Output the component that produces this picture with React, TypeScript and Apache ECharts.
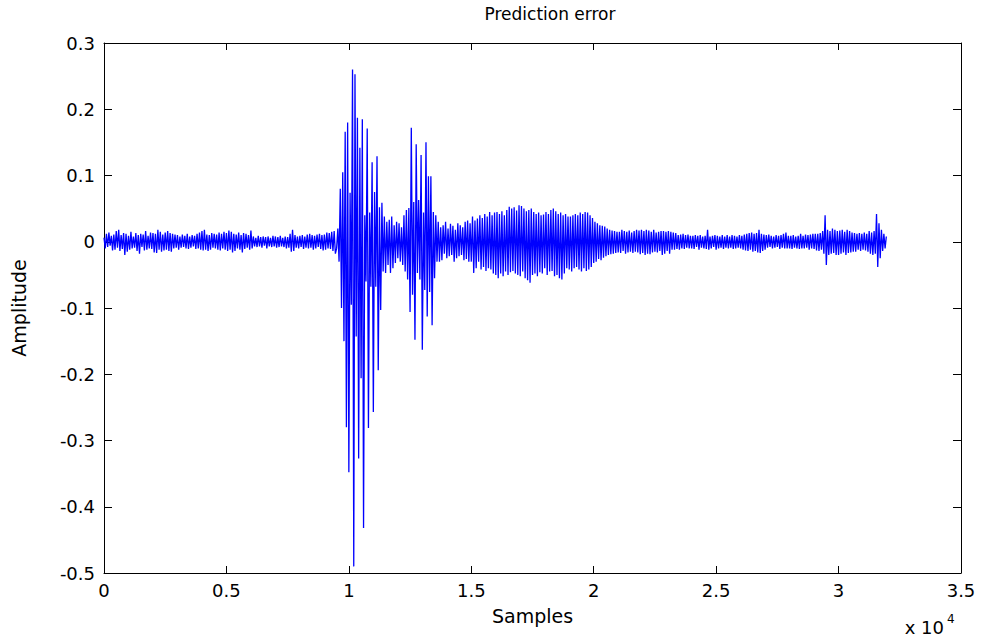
import React, { useEffect, useRef } from "react";
import * as echarts from "echarts";

// Sample spacing of the listed prediction-error values (samples per point)
const sampleStep = 50;

// Prediction error values, one every 50 samples
const quietStart = [
  0.006, -0.010, 0.012, -0.008, 0.014, -0.006, 0.009, -0.013, 0.011, -0.012, 0.016, -0.009, 0.018, -0.014, 0.010, -0.011, 0.013, -0.020, 0.012, -0.015,
  0.009, -0.012, 0.015, -0.010, 0.008, -0.009, 0.013, -0.014, 0.010, -0.018, 0.012, -0.008, 0.011, -0.013, 0.016, -0.012, 0.009, -0.010, 0.014, -0.011,
  0.013, -0.016, 0.012, -0.017, 0.018, -0.012, 0.015, -0.015, 0.011, -0.013, 0.014, -0.012, 0.016, -0.014, 0.013, -0.015, 0.012, -0.010, 0.011, -0.009,
  0.010, -0.012, 0.008, -0.009, 0.011, -0.008, 0.009, -0.010, 0.012, -0.011, 0.008, -0.009, 0.010, -0.007, 0.009, -0.011, 0.012, -0.010, 0.014, -0.012,
  0.016, -0.013, 0.018, -0.012, 0.011, -0.014, 0.010, -0.012, 0.013, -0.009, 0.012, -0.010, 0.011, -0.012, 0.014, -0.013, 0.012, -0.010, 0.015, -0.012,
  0.013, -0.014, 0.017, -0.012, 0.015, -0.016, 0.012, -0.014, 0.011, -0.010, 0.014, -0.012, 0.010, -0.016, 0.013, -0.011, 0.012, -0.009, 0.010, -0.012,
  0.017, -0.010, 0.008, -0.007, 0.006, -0.008, 0.009, -0.007, 0.007, -0.009, 0.008, -0.006, 0.007, -0.010, 0.008, -0.007, 0.006, -0.008, 0.009, -0.007,
  0.008, -0.009, 0.007, -0.008, 0.009, -0.007, 0.006, -0.008, 0.008, -0.010, 0.007, -0.009, 0.012, -0.015, 0.018, -0.014, 0.010, -0.009, 0.008, -0.010,
  0.009, -0.008, 0.010, -0.011, 0.008, -0.009, 0.011, -0.010, 0.012, -0.009, 0.010, -0.012, 0.009, -0.010, 0.011, -0.008, 0.012, -0.011, 0.010, -0.013,
  0.011, -0.012, 0.014, -0.010, 0.013, -0.011, 0.015, -0.014, 0.016, -0.018,
];

const firstBurst = [
  -0.010, 0.020, -0.030, 0.080, -0.100, 0.105, -0.150, 0.166, -0.280, 0.180,
  -0.348, 0.074, -0.095, 0.260, -0.490, 0.253, -0.143, 0.187, -0.327, 0.142,
  -0.206, 0.185, -0.432, 0.040, -0.060, 0.171, -0.281, 0.044, -0.068, 0.120,
  -0.257, 0.075, -0.068, 0.129, -0.194, 0.052, -0.103, 0.059, -0.045, 0.038,
  -0.047, 0.030, -0.035, 0.033, -0.047, 0.038, -0.040, 0.025, -0.032, 0.030,
  -0.025, 0.028, -0.030, 0.022, -0.035, 0.040, -0.045, 0.048, -0.057, 0.051,
];

const secondBurst = [
  -0.106, 0.172, -0.080, 0.060, -0.148, 0.147, -0.047, 0.063, -0.057, 0.131,
  -0.163, 0.044, -0.073, 0.150, -0.113, 0.099, -0.076, 0.099, -0.126, 0.045,
  -0.055, 0.040, -0.030, 0.030, -0.030,
];

const bridge = [
  0.022, -0.028, 0.025, -0.018, 0.030, -0.025, 0.020, -0.022, 0.027, -0.020,
  0.024, -0.030, 0.018, -0.025, 0.028, -0.022, 0.025, -0.020, 0.022, -0.028,
  0.030, -0.026, 0.032, -0.030, 0.028,
];

const voicedSection = [
  -0.030, 0.038, -0.047, 0.032, -0.040, 0.035, -0.030, 0.040, -0.042, 0.036,
  -0.038, 0.042, -0.044, 0.038, -0.040, 0.045, -0.042, 0.040, -0.048, 0.044,
  -0.050, 0.045, -0.055, 0.042, -0.048, 0.046, -0.052, 0.040, -0.045, 0.048,
  -0.050, 0.053, -0.046, 0.050, -0.044, 0.052, -0.048, 0.047, -0.050, 0.055,
  -0.052, 0.054, -0.045, 0.050, -0.055, 0.046, -0.058, 0.048, -0.062, 0.050,
  -0.050, 0.045, -0.048, 0.042, -0.052, 0.044, -0.046, 0.040, -0.048, 0.041,
  -0.040, 0.045, -0.050, 0.042, -0.045, 0.048, -0.044, 0.050, -0.052, 0.046,
  -0.050, 0.042, -0.055, 0.044, -0.057, 0.040, -0.048, 0.042, -0.040, 0.038,
  -0.042, 0.038, -0.045, 0.040, -0.040, 0.042, -0.038, 0.040, -0.042, 0.044,
  -0.045, 0.042, -0.040, 0.045, -0.044, 0.044, -0.042, 0.040, -0.038, 0.036,
  -0.032, 0.030, -0.030, 0.028, -0.026, 0.025, -0.028, 0.024, -0.024, 0.023,
  -0.022, 0.020, -0.020, 0.018, -0.019, 0.017, -0.018, 0.016, -0.017, 0.015,
];

const quietEnd = [
  -0.016, 0.015, -0.017, 0.018, -0.014, 0.016, -0.018, 0.015, -0.016, 0.017,
  -0.015, 0.014, -0.017, 0.016, -0.015, 0.018, -0.016, 0.017, -0.019, 0.018,
  -0.017, 0.016, -0.020, 0.018, -0.018, 0.017, -0.019, 0.015, -0.016, 0.018,
  -0.015, 0.014, -0.016, 0.015, -0.014, 0.016, -0.020, 0.016, -0.018, 0.015,
  -0.014, 0.016, -0.018, 0.015, -0.012, 0.014, -0.012, 0.013, -0.011, 0.010,
  -0.012, 0.011, -0.010, 0.012, -0.011, 0.010, -0.009, 0.011, -0.010, 0.009,
  -0.010, 0.009, -0.011, 0.010, -0.008, 0.009, -0.012, 0.010, -0.009, 0.008,
  -0.010, 0.009, -0.011, 0.018, -0.012, 0.008, -0.010, 0.009, -0.008, 0.010,
  -0.012, 0.009, -0.010, 0.008, -0.009, 0.010, -0.011, 0.008, -0.009, 0.010,
  -0.010, 0.008, -0.009, 0.010, -0.011, 0.009, -0.010, 0.008, -0.009, 0.010,
  -0.010, 0.009, -0.012, 0.011, -0.013, 0.012, -0.014, 0.013, -0.012, 0.014,
  -0.015, 0.012, -0.014, 0.013, -0.016, 0.018, -0.017, 0.012, -0.014, 0.011,
  -0.012, 0.010, -0.009, 0.011, -0.008, 0.009, -0.010, 0.008, -0.009, 0.010,
  -0.008, 0.009, -0.011, 0.010, -0.009, 0.012, -0.010, 0.014, -0.010, 0.009,
  -0.010, 0.009, -0.011, 0.010, -0.009, 0.008, -0.010, 0.009, -0.011, 0.012,
  -0.010, 0.009, -0.010, 0.011, -0.009, 0.010, -0.012, 0.011, -0.010, 0.012,
  -0.011, 0.012, -0.013, 0.012, -0.014, 0.013, -0.012, 0.016, -0.018, 0.040,
  -0.035, 0.018, -0.020, 0.016, -0.018, 0.020, -0.017, 0.018, -0.020, 0.016,
  -0.020, 0.017, -0.018, 0.018, -0.016, 0.015, -0.020, 0.018, -0.017, 0.016,
  -0.016, 0.014, -0.015, 0.013, -0.015, 0.012, -0.012, 0.013, -0.014, 0.012,
  -0.012, 0.014, -0.013, 0.012, -0.015, 0.016, -0.018, 0.014, -0.020, 0.016,
  -0.018, 0.042, -0.038, 0.028, -0.025, 0.018, -0.014, 0.012, -0.010, 0.008,
];

const xTickLabels = ["0", "0.5", "1", "1.5", "2", "2.5", "3", "3.5"];
const yTickLabels = ["-0.5", "-0.4", "-0.3", "-0.2", "-0.1", "0", "0.1", "0.2", "0.3"];

const FONT = "'DejaVu Sans', 'Liberation Sans', Arial, sans-serif";

export default function App() {
  const ref = useRef<HTMLDivElement>(null);

  useEffect(() => {
    if (!ref.current) return;
    const chart = echarts.init(ref.current, undefined, { renderer: "svg" });
    const values = [...quietStart, ...firstBurst, ...secondBurst, ...bridge, ...voicedSection, ...quietEnd];
    const data = values.map((v, i) => [i * sampleStep, v]);

    const xBase = {
      type: "value" as const,
      min: 0,
      max: 35000,
      interval: 5000,
      splitLine: { show: false },
      axisLine: { show: true, onZero: false, lineStyle: { color: "#000", width: 1 } },
      axisTick: { show: true, inside: true, length: 7, lineStyle: { color: "#000", width: 1 } },
    };
    const yBase = {
      type: "value" as const,
      min: -0.5,
      max: 0.3,
      interval: 0.1,
      splitLine: { show: false },
      axisLine: { show: true, onZero: false, lineStyle: { color: "#000", width: 1 } },
      axisTick: { show: true, inside: true, length: 8, lineStyle: { color: "#000", width: 1 } },
    };

    chart.setOption({
      animation: false,
      backgroundColor: "#ffffff",
      grid: { left: 104, right: 22, top: 43, bottom: 69, containLabel: false },
      xAxis: [
        {
          ...xBase,
          position: "bottom",
          name: "Samples",
          nameLocation: "middle",
          nameGap: 33,
          nameTextStyle: { color: "#000", fontSize: 19, fontFamily: FONT },
          axisLabel: {
            color: "#000",
            fontSize: 18,
            fontFamily: FONT,
            margin: 8,
            showMinLabel: true,
            showMaxLabel: true,
            formatter: (v: number) => xTickLabels[Math.round(v / 5000)] ?? "",
          },
        },
        {
          ...xBase,
          position: "top",
          axisLabel: { show: false },
        },
      ],
      yAxis: [
        {
          ...yBase,
          position: "left",
          name: "Amplitude",
          nameLocation: "middle",
          nameGap: 76,
          nameTextStyle: { color: "#000", fontSize: 19, fontFamily: FONT },
          axisLabel: {
            color: "#000",
            fontSize: 18,
            fontFamily: FONT,
            margin: 9,
            showMinLabel: true,
            showMaxLabel: true,
            formatter: (v: number) => yTickLabels[Math.round((v + 0.5) / 0.1)] ?? "",
          },
        },
        {
          ...yBase,
          position: "right",
          axisLabel: { show: false },
        },
      ],
      graphic: [
        {
          type: "text",
          x: 550,
          y: 14,
          style: {
            text: "Prediction error",
            fill: "#000",
            fontSize: 17,
            fontFamily: FONT,
            textAlign: "center",
            textVerticalAlign: "middle",
          },
        },
        {
          type: "text",
          x: 944,
          y: 636,
          style: {
            text: "x 10",
            fill: "#000",
            fontSize: 18,
            fontFamily: FONT,
            textAlign: "right",
            textVerticalAlign: "bottom",
          },
        },
        {
          type: "text",
          x: 947,
          y: 625,
          style: {
            text: "4",
            fill: "#000",
            fontSize: 12,
            fontFamily: FONT,
            textAlign: "left",
            textVerticalAlign: "bottom",
          },
        },
      ],
      series: [
        {
          type: "line",
          xAxisIndex: 0,
          yAxisIndex: 0,
          data,
          showSymbol: false,
          symbol: "none",
          lineStyle: { color: "#0000ff", width: 1.3 },
          emphasis: { disabled: true },
        },
      ],
    });

    return () => chart.dispose();
  }, []);

  return (
    <div
      ref={ref}
      style={{ position: "fixed", left: 0, top: 0, width: 983, height: 642, background: "#fff" }}
    />
  );
}
